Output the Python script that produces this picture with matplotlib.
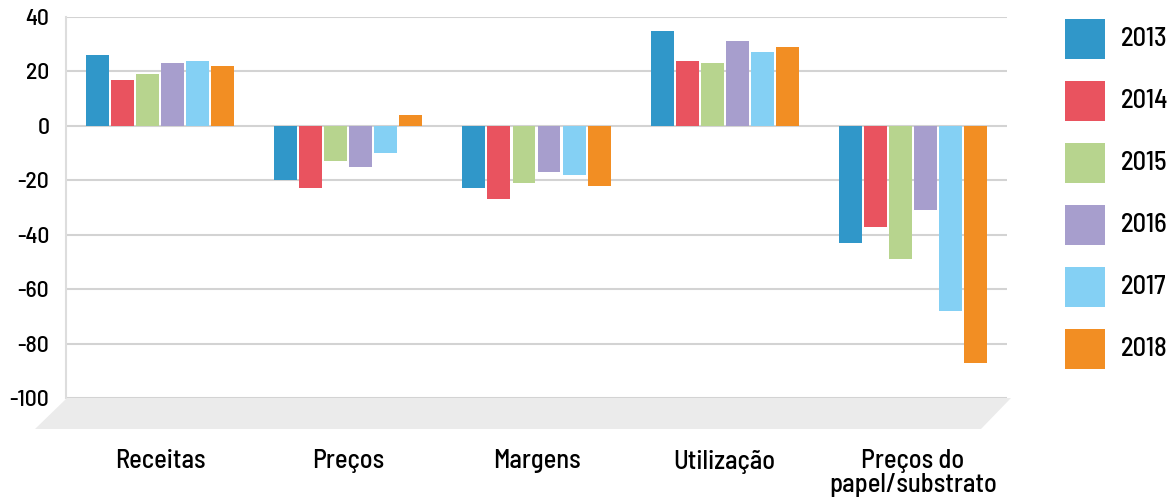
import matplotlib
matplotlib.use("Agg")
import matplotlib.pyplot as plt
from matplotlib.patches import Polygon, Rectangle
import numpy as np

categories = ["Receitas", "Preços", "Margens", "Utilização", "Preços do\npapel/substrato"]
years = ["2013", "2014", "2015", "2016", "2017", "2018"]
values = {
    "2013": [26, -20, -23, 35, -43],
    "2014": [17, -23, -27, 24, -37],
    "2015": [19, -13, -21, 23, -49],
    "2016": [23, -15, -17, 31, -31],
    "2017": [24, -10, -18, 27, -68],
    "2018": [22, 4, -22, 29, -87],
}
colors = ["#3097c9", "#e9535f", "#b7d48e", "#a79ecd", "#84d0f4", "#f28e23"]
yticks = [-100, -80, -60, -40, -20, 0, 20, 40]

plt.rcParams['font.family'] = ['Barlow Semi Condensed', 'DejaVu Sans']
plt.rcParams['font.weight'] = 500

W, H = 1170, 504
fig = plt.figure(figsize=(W/100, H/100), dpi=100)
ax = fig.add_axes([66/W, 1-398/H, (1007-66)/W, (398-17)/H])

# floor
floor = Polygon([[67/W, 1-398/H], [1011/W, 1-398/H], [981/W, 1-429/H], [35/W, 1-429/H]],
                closed=True, transform=fig.transFigure, facecolor="#ebebeb", edgecolor="none", zorder=0)
fig.patches.append(floor)

x = np.arange(len(categories))
step = 0.133
bw = 0.122
for i, (yr, c) in enumerate(zip(years, colors)):
    ax.bar(x + (i - 2.5) * step, values[yr], width=bw, color=c, zorder=3)

ax.set_xlim(-0.5, len(categories) - 0.5)
ax.set_ylim(-100, 40)
ax.set_yticks(yticks)
ax.set_yticklabels([str(v) for v in yticks], fontsize=17)
ax.grid(axis='y', color="#d3d3d3", linewidth=1.5, zorder=0)
ax.set_axisbelow(True)
for s in ["top", "right", "bottom"]:
    ax.spines[s].set_visible(False)
ax.spines["left"].set_color("#dddddd")
ax.spines["left"].set_linewidth(1.5)
ax.tick_params(axis='y', length=0, pad=12)
ax.tick_params(axis='x', length=0, pad=37)
ax.set_xticks(x)
ax.set_xticklabels(categories, fontsize=19, va='top', linespacing=1.0)

# legend
for i, (yr, c) in enumerate(zip(years, colors)):
    top = 19 + 62 * i
    fig.patches.append(Rectangle((1065/W, 1-(top+40)/H), 40/W, 40/H,
                                 transform=fig.transFigure, facecolor=c, edgecolor='none'))
    fig.text(1121/W, 1-(top+20)/H, yr, fontsize=19, va='center', ha='left')

fig.savefig("out.png", dpi=100)
